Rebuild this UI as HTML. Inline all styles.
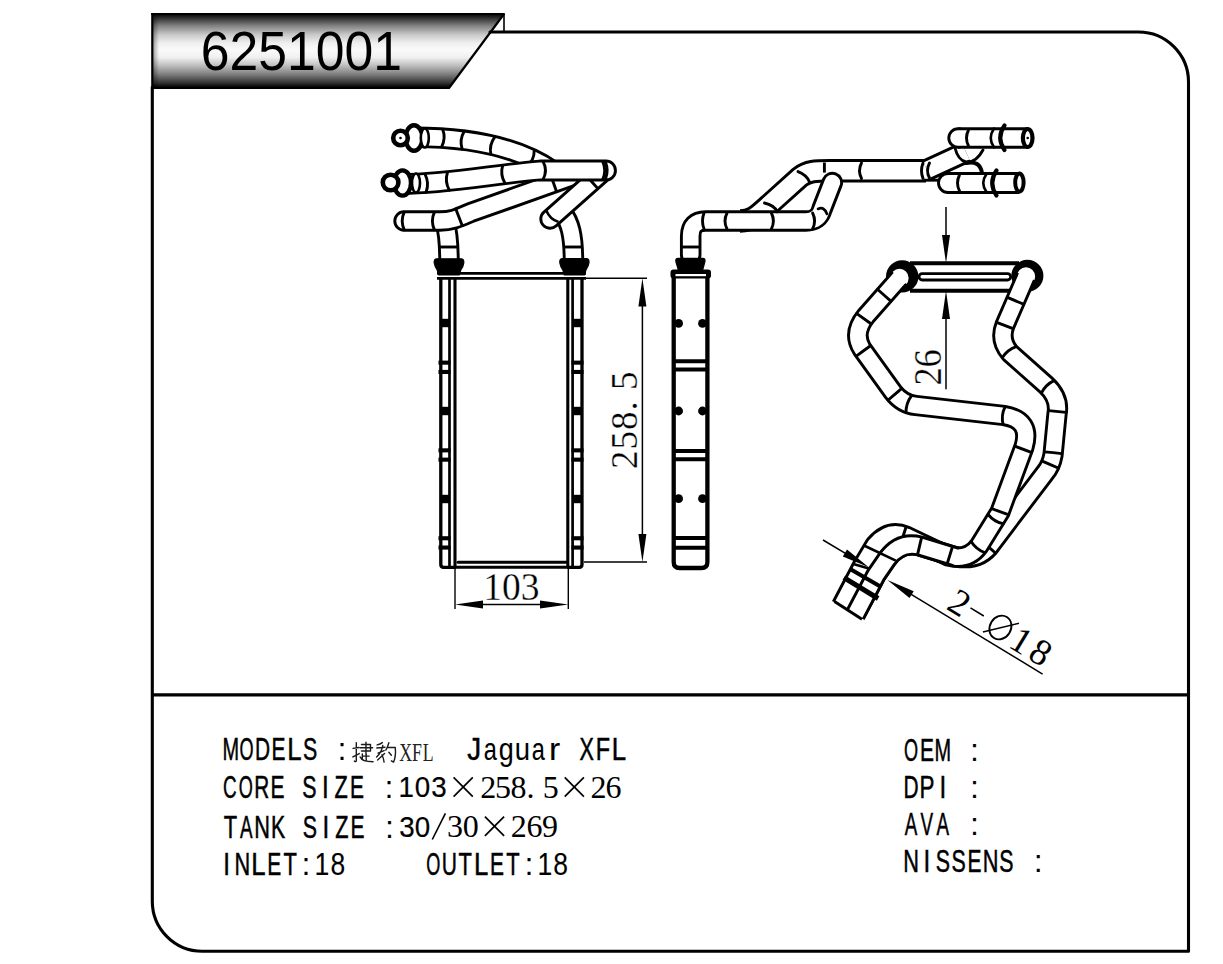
<!DOCTYPE html>
<html><head><meta charset="utf-8"><style>
html,body{margin:0;padding:0;background:#fff;width:1223px;height:964px;overflow:hidden}
svg{display:block}
</style></head><body>
<svg width="1223" height="964" viewBox="0 0 1223 964" font-family="Liberation Sans, sans-serif">
<defs><linearGradient id="tg" x1="0" y1="0" x2="0" y2="1">
<stop offset="0" stop-color="#000"/><stop offset="0.03" stop-color="#111"/><stop offset="0.05" stop-color="#222"/><stop offset="0.168" stop-color="#808080"/>
<stop offset="0.287" stop-color="#c8c8c8"/><stop offset="0.404" stop-color="#f0f0f0"/><stop offset="0.497" stop-color="#fafafa"/><stop offset="0.592" stop-color="#f0f0f0"/>
<stop offset="0.697" stop-color="#c0c0c0"/><stop offset="0.814" stop-color="#808080"/><stop offset="0.932" stop-color="#333"/><stop offset="0.97" stop-color="#111"/><stop offset="1" stop-color="#000"/>
</linearGradient>
<linearGradient id="tl" x1="0" y1="0" x2="1" y2="0">
<stop offset="0" stop-color="#000" stop-opacity="0.35"/><stop offset="1" stop-color="#000" stop-opacity="0"/></linearGradient></defs>
<polygon points="152,13 504,13 449,88 152,88" fill="url(#tg)"/>
<rect x="153" y="13" width="6" height="75" fill="url(#tl)"/>
<path d="M152 14 L504 14 L449 88 L152 88" fill="none" stroke="#000" stroke-width="2.2" stroke-linejoin="round" stroke-linecap="round"/>
<line x1="152.3" y1="13" x2="152.3" y2="88" stroke="#000" stroke-width="2.2" stroke-linecap="butt"/>
<line x1="504" y1="14" x2="504" y2="32" stroke="#000" stroke-width="1.6" stroke-linecap="butt"/>
<path d="M490 32 L1138.5 32 A50 50 0 0 1 1188.5 82 L1188.5 951.3 L202.3 951.3 A50 50 0 0 1 152.3 901.3 L152.3 87" fill="none" stroke="#000" stroke-width="3.1" stroke-linejoin="round" stroke-linecap="round"/>
<line x1="152.3" y1="694.8" x2="1188.5" y2="694.8" stroke="#000" stroke-width="3.2" stroke-linecap="butt"/>
<text transform="scale(0.923,1)" x="217.5" y="70.3" font-family="Liberation Sans" font-size="56" fill="#000">6251001</text>
<path d="M440.8 279 L440.8 564.5 Q440.8 567.3 443.6 567.3 L455 567.3" fill="none" stroke="#000" stroke-width="3.3" stroke-linejoin="round" stroke-linecap="round"/>
<line x1="449.5" y1="279" x2="449.5" y2="567.5" stroke="#000" stroke-width="2.7" stroke-linecap="butt"/>
<line x1="455" y1="279" x2="455" y2="567" stroke="#000" stroke-width="3.1"/>
<path d="M582 279 L582 564.5 Q582 567.3 579.2 567.3 L568 567.3" fill="none" stroke="#000" stroke-width="3.3" stroke-linejoin="round" stroke-linecap="round"/>
<line x1="572.6" y1="279" x2="572.6" y2="567.5" stroke="#000" stroke-width="2.7" stroke-linecap="butt"/>
<line x1="567.8" y1="279" x2="567.8" y2="567" stroke="#000" stroke-width="3.1"/>
<line x1="437" y1="273.3" x2="586" y2="273.3" stroke="#000" stroke-width="2.7" stroke-linecap="butt"/>
<line x1="437" y1="278.4" x2="586" y2="278.4" stroke="#000" stroke-width="2.7" stroke-linecap="butt"/>
<path d="M458 562.3 L566 562.3" fill="none" stroke="#000" stroke-width="3" stroke-linejoin="round" stroke-linecap="round"/>
<path d="M456 567.2 L567 567.2" fill="none" stroke="#000" stroke-width="3" stroke-linejoin="round" stroke-linecap="round"/>
<rect x="440" y="318.8" width="10" height="8.4" fill="#000"/>
<rect x="572" y="318.8" width="10" height="8.4" fill="#000"/>
<rect x="440" y="406.8" width="10" height="8.4" fill="#000"/>
<rect x="572" y="406.8" width="10" height="8.4" fill="#000"/>
<rect x="440" y="494.8" width="10" height="8.4" fill="#000"/>
<rect x="572" y="494.8" width="10" height="8.4" fill="#000"/>
<rect x="438.5" y="360.6" width="12" height="4.1" fill="#000"/><rect x="438.5" y="369.90000000000003" width="12" height="4.1" fill="#000"/>
<rect x="571.5" y="360.6" width="12" height="4.1" fill="#000"/><rect x="571.5" y="369.90000000000003" width="12" height="4.1" fill="#000"/>
<rect x="438.5" y="448.3" width="12" height="4.1" fill="#000"/><rect x="438.5" y="457.6" width="12" height="4.1" fill="#000"/>
<rect x="571.5" y="448.3" width="12" height="4.1" fill="#000"/><rect x="571.5" y="457.6" width="12" height="4.1" fill="#000"/>
<rect x="438.5" y="536.1999999999999" width="12" height="4.1" fill="#000"/><rect x="438.5" y="545.5" width="12" height="4.1" fill="#000"/>
<rect x="571.5" y="536.1999999999999" width="12" height="4.1" fill="#000"/><rect x="571.5" y="545.5" width="12" height="4.1" fill="#000"/>
<path d="M414 137.3 C450 137.3 510 141 553 171" fill="none" stroke="#000" stroke-width="21.5" stroke-linecap="butt" stroke-linejoin="round"/><path d="M414 137.3 C450 137.3 510 141 553 171" fill="none" stroke="#fff" stroke-width="15.7" stroke-linecap="butt" stroke-linejoin="round"/>
<path d="M441.6 147.0 Q446.1 138.4 442.7 129.3" fill="none" stroke="#000" stroke-width="2.9" stroke-linejoin="round" stroke-linecap="round"/>
<path d="M462.1 149.0 Q459.2 139.6 464.3 131.3" fill="none" stroke="#000" stroke-width="2.9" stroke-linejoin="round" stroke-linecap="round"/>
<path d="M490.8 154.1 Q489.0 144.5 494.9 136.8" fill="none" stroke="#000" stroke-width="2.9" stroke-linejoin="round" stroke-linecap="round"/>
<path d="M526.8 166.3 Q534.5 160.0 534.2 150.1" fill="none" stroke="#000" stroke-width="2.9" stroke-linejoin="round" stroke-linecap="round"/>
<path d="M445 222 C448 232 449 242 449 262" fill="none" stroke="#000" stroke-width="21.4" stroke-linecap="butt" stroke-linejoin="round"/><path d="M445 222 C448 232 449 242 449 262" fill="none" stroke="#fff" stroke-width="15.6" stroke-linecap="butt" stroke-linejoin="round"/>
<line x1="439.5" y1="247" x2="458.5" y2="247" stroke="#000" stroke-width="2.9" stroke-linecap="butt"/>
<path d="M404 221 L440 221 C452 221 458 218 470 212.8 L580 173.8" fill="none" stroke="#000" stroke-width="21.3" stroke-linecap="round" stroke-linejoin="round"/><path d="M404 221 L440 221 C452 221 458 218 470 212.8 L580 173.8" fill="none" stroke="#fff" stroke-width="15.5" stroke-linecap="round" stroke-linejoin="round"/>
<path d="M404.2 229.8 Q400.2 221.0 404.2 212.2" fill="none" stroke="#000" stroke-width="2.9" stroke-linejoin="round" stroke-linecap="round"/>
<path d="M434.4 229.8 Q430.4 221.0 434.4 212.2" fill="none" stroke="#000" stroke-width="2.9" stroke-linejoin="round" stroke-linecap="round"/>
<path d="M462.2 225.6 Q459.1 217.4 455.9 209.2" fill="none" stroke="#000" stroke-width="2.9" stroke-linejoin="round" stroke-linecap="round"/>
<path d="M556.5 191.5 Q553.6 183.2 550.7 174.9" fill="none" stroke="#000" stroke-width="2.9" stroke-linejoin="round" stroke-linecap="round"/>
<path d="M562 212 C570 222 573.5 235 573.5 262" fill="none" stroke="#000" stroke-width="21.4" stroke-linecap="butt" stroke-linejoin="round"/><path d="M562 212 C570 222 573.5 235 573.5 262" fill="none" stroke="#fff" stroke-width="15.6" stroke-linecap="butt" stroke-linejoin="round"/>
<line x1="564" y1="247" x2="583" y2="247" stroke="#000" stroke-width="2.9" stroke-linecap="butt"/>
<path d="M604 171 L550 219" fill="none" stroke="#000" stroke-width="21.3" stroke-linecap="round" stroke-linejoin="round"/><path d="M604 171 L550 219" fill="none" stroke="#fff" stroke-width="15.5" stroke-linecap="round" stroke-linejoin="round"/>
<path d="M586.0 175.2 Q591.9 181.8 597.7 188.4" fill="none" stroke="#000" stroke-width="2.9" stroke-linejoin="round" stroke-linecap="round"/>
<path d="M402 184 C448 184 495 174 540 170.5 L606 170.5" fill="none" stroke="#000" stroke-width="21.8" stroke-linecap="round" stroke-linejoin="round"/><path d="M402 184 C448 184 495 174 540 170.5 L606 170.5" fill="none" stroke="#fff" stroke-width="16.0" stroke-linecap="round" stroke-linejoin="round"/>
<path d="M426.1 192.2 Q429.5 183.0 425.0 174.2" fill="none" stroke="#000" stroke-width="2.9" stroke-linejoin="round" stroke-linecap="round"/>
<path d="M449.4 190.3 Q444.5 181.7 447.5 172.3" fill="none" stroke="#000" stroke-width="2.9" stroke-linejoin="round" stroke-linecap="round"/>
<path d="M505.0 183.3 Q499.9 174.8 502.7 165.4" fill="none" stroke="#000" stroke-width="2.9" stroke-linejoin="round" stroke-linecap="round"/>
<path d="M543.0 179.6 Q548.0 170.5 543.0 161.4" fill="none" stroke="#000" stroke-width="2.9" stroke-linejoin="round" stroke-linecap="round"/>
<path d="M602.7 179.6 Q606.7 170.5 602.7 161.4" fill="none" stroke="#000" stroke-width="2.9" stroke-linejoin="round" stroke-linecap="round"/>
<path d="M605.7 178.1 Q608.7 170.5 605.7 162.9" fill="none" stroke="#000" stroke-width="2.9" stroke-linejoin="round" stroke-linecap="round"/>
<path d="M546.5 211 Q550 219 557.5 221.5" fill="none" stroke="#000" stroke-width="2.6" stroke-linejoin="round" stroke-linecap="round"/>
<ellipse cx="414" cy="138" rx="8.5" ry="12.8" fill="#fff" stroke="#000" stroke-width="4.4"/>
<ellipse cx="424.8" cy="138" rx="4" ry="9.5" fill="#fff" stroke="#000" stroke-width="2.6"/>
<circle cx="400.5" cy="138" r="7.3" fill="#fff" stroke="#000" stroke-width="4.6"/>
<circle cx="400.5" cy="138" r="1.3" fill="#000"/>
<ellipse cx="402.5" cy="183" rx="8.5" ry="12.6" fill="#fff" stroke="#000" stroke-width="4.4"/>
<ellipse cx="416" cy="183" rx="4" ry="9.5" fill="#fff" stroke="#000" stroke-width="2.6"/>
<circle cx="390.6" cy="182.5" r="7.8" fill="#fff" stroke="#000" stroke-width="4.6"/>
<path d="M437 258.8 Q433.8 258.8 434.2 263 Q434.8 266.5 437.2 270 L438.8 275 L459.2 275 L460.8 270 Q463.4 266.5 463.8 263 Q464.2 258.8 461 258.8 Z" fill="#000" stroke="#000" stroke-width="1.2" stroke-linejoin="round" stroke-linecap="round"/>
<path d="M562.6 258.6 Q559.4 258.6 559.8 262.8 Q560.4 266.3 562.8 269.8 L564.4 275 L584.4 275 L586 269.8 Q588.6 266.3 589 262.8 Q589.4 258.6 586.2 258.6 Z" fill="#000" stroke="#000" stroke-width="1.2" stroke-linejoin="round" stroke-linecap="round"/>
<line x1="584" y1="278.3" x2="647" y2="278.3" stroke="#000" stroke-width="1.4" stroke-linecap="butt"/>
<line x1="584" y1="562" x2="647" y2="562" stroke="#000" stroke-width="1.4" stroke-linecap="butt"/>
<line x1="642.4" y1="290" x2="642.4" y2="550" stroke="#000" stroke-width="1.5" stroke-linecap="butt"/>
<polygon points="642.4,278.3 638.4,306.5 646.4,306.5" fill="#000"/>
<polygon points="642.4,562 646.4,534.0 638.4,534.0" fill="#000"/>
<text transform="translate(637,419.8) rotate(-90)" text-anchor="middle" font-family="Liberation Serif" font-size="37" letter-spacing="1" fill="#000" stroke="#fff" stroke-width="0.3">258. 5</text>
<line x1="455" y1="568" x2="455" y2="609" stroke="#000" stroke-width="1.4" stroke-linecap="butt"/>
<line x1="568.3" y1="568" x2="568.3" y2="609" stroke="#000" stroke-width="1.4" stroke-linecap="butt"/>
<line x1="470" y1="604.6" x2="553" y2="604.6" stroke="#000" stroke-width="1.5" stroke-linecap="butt"/>
<polygon points="455,604.6 483.0,608.6 483.0,600.6" fill="#000"/>
<polygon points="568.3,604.6 540.0,600.6 540.0,608.6" fill="#000"/>
<text transform="translate(511.3,600.1) scale(0.95,1)" text-anchor="middle" font-family="Liberation Serif" font-size="39.5" fill="#000" stroke="#fff" stroke-width="0.3">103</text>
<path d="M673.7 278 L673.7 562 Q673.7 568 679.7 568 L701.4 568 Q707.4 568 707.4 562 L707.4 278" fill="none" stroke="#000" stroke-width="4.3" stroke-linejoin="round" stroke-linecap="round"/>
<circle cx="678.6" cy="323.4" r="4.4" fill="#000"/><circle cx="702.5" cy="323.4" r="4.4" fill="#000"/>
<circle cx="678.6" cy="411" r="4.4" fill="#000"/><circle cx="702.5" cy="411" r="4.4" fill="#000"/>
<circle cx="678.6" cy="498.7" r="4.4" fill="#000"/><circle cx="702.5" cy="498.7" r="4.4" fill="#000"/>
<line x1="673.7" y1="361.2" x2="707.4" y2="361.2" stroke="#000" stroke-width="4" stroke-linecap="butt"/>
<line x1="673.7" y1="369.5" x2="707.4" y2="369.5" stroke="#000" stroke-width="4" stroke-linecap="butt"/>
<line x1="673.7" y1="451" x2="707.4" y2="451" stroke="#000" stroke-width="4" stroke-linecap="butt"/>
<line x1="673.7" y1="459.2" x2="707.4" y2="459.2" stroke="#000" stroke-width="4" stroke-linecap="butt"/>
<line x1="673.7" y1="538" x2="707.4" y2="538" stroke="#000" stroke-width="4" stroke-linecap="butt"/>
<line x1="673.7" y1="547.7" x2="707.4" y2="547.7" stroke="#000" stroke-width="4" stroke-linecap="butt"/>
<path d="M740 221 C752 221 757 216 770 204 L800 177 C808 171 815 170.75 830 170.75 L926 170.75" fill="none" stroke="#000" stroke-width="23.4" stroke-linecap="butt" stroke-linejoin="round"/><path d="M740 221 C752 221 757 216 770 204 L800 177 C808 171 815 170.75 830 170.75 L926 170.75" fill="none" stroke="#fff" stroke-width="17.6" stroke-linecap="butt" stroke-linejoin="round"/>
<path d="M927 170 L966 152" fill="none" stroke="#000" stroke-width="22.4" stroke-linecap="butt" stroke-linejoin="round"/><path d="M927 170 L966 152" fill="none" stroke="#fff" stroke-width="16.6" stroke-linecap="butt" stroke-linejoin="round"/>
<path d="M690.7 255 L690.7 236 Q690.7 221 705.7 221 L806 221 Q819 221 822 209 L832.3 182.5" fill="none" stroke="#000" stroke-width="21.5" stroke-linecap="round" stroke-linejoin="round"/><path d="M690.7 255 L690.7 236 Q690.7 221 705.7 221 L806 221 Q819 221 822 209 L832.3 182.5" fill="none" stroke="#fff" stroke-width="15.7" stroke-linecap="round" stroke-linejoin="round"/>
<rect x="670.5" y="269.6" width="40.5" height="9" rx="3" fill="#000"/>
<rect x="675.5" y="274" width="30.5" height="2.2" fill="#fff"/>
<path d="M678 258.4 Q675.5 258.4 676 261.5 L678.5 270 L702.5 270 L704.8 261.5 Q705.3 258.4 702.8 258.4 Z" fill="#000" stroke="#000" stroke-width="1.5" stroke-linejoin="round" stroke-linecap="round"/>
<path d="M771.4 213 Q775.4 221.0 771.4 229" fill="none" stroke="#000" stroke-width="2.9" stroke-linejoin="round" stroke-linecap="round"/>
<path d="M812.6 213 Q816.6 221.0 812.6 229" fill="none" stroke="#000" stroke-width="2.9" stroke-linejoin="round" stroke-linecap="round"/>
<path d="M764.5 203 Q774 205 777.3 211.8" fill="none" stroke="#000" stroke-width="2.9" stroke-linejoin="round" stroke-linecap="round"/>
<path d="M798 171.6 Q807 175 809.7 182.4" fill="none" stroke="#000" stroke-width="2.9" stroke-linejoin="round" stroke-linecap="round"/>
<line x1="824.4" y1="162.5" x2="824.4" y2="172.6" stroke="#000" stroke-width="2.9" stroke-linecap="butt"/>
<path d="M861.5 163 Q857.5 170.75 861.5 178.5" fill="none" stroke="#000" stroke-width="2.9" stroke-linejoin="round" stroke-linecap="round"/>
<path d="M923 163 Q920 170.75 923 178.5" fill="none" stroke="#000" stroke-width="2.9" stroke-linejoin="round" stroke-linecap="round"/>
<path d="M929.5 163 Q925.5 170.5 929.5 178" fill="none" stroke="#000" stroke-width="2.9" stroke-linejoin="round" stroke-linecap="round"/>
<path d="M704 213 Q701 221.0 704 229" fill="none" stroke="#000" stroke-width="2.9" stroke-linejoin="round" stroke-linecap="round"/>
<path d="M727 213 Q723 221.0 727 229" fill="none" stroke="#000" stroke-width="2.9" stroke-linejoin="round" stroke-linecap="round"/>
<line x1="681.2" y1="247" x2="700.2" y2="247" stroke="#000" stroke-width="2.9" stroke-linecap="butt"/>
<path d="M818 209 Q824 206 827 214" fill="none" stroke="#000" stroke-width="2.6" stroke-linejoin="round" stroke-linecap="round"/>
<circle cx="958" cy="138" r="9.2" fill="#fff" stroke="#000" stroke-width="2.9"/>
<path d="M958 138 L1027.7 138" fill="none" stroke="#000" stroke-width="21.5" stroke-linecap="butt" stroke-linejoin="round"/><path d="M958 138 L1027.7 138" fill="none" stroke="#fff" stroke-width="15.7" stroke-linecap="butt" stroke-linejoin="round"/>
<path d="M955 148 Q958 160 966 162 Q976 163 983 150" fill="none" stroke="#000" stroke-width="2.9" stroke-linejoin="round" stroke-linecap="round"/>
<line x1="924" y1="180.2" x2="940" y2="180.2" stroke="#000" stroke-width="2.9" stroke-linecap="butt"/>
<circle cx="948" cy="183" r="9.5" fill="#fff" stroke="#000" stroke-width="2.9"/>
<path d="M948 183 L1019.4 183" fill="none" stroke="#000" stroke-width="21.9" stroke-linecap="butt" stroke-linejoin="round"/><path d="M948 183 L1019.4 183" fill="none" stroke="#fff" stroke-width="16.1" stroke-linecap="butt" stroke-linejoin="round"/>
<path d="M966 163 Q980 160 982 173" fill="none" stroke="#000" stroke-width="4" stroke-linejoin="round" stroke-linecap="round"/>
<path d="M968.5 130 Q964.5 138.0 968.5 146" fill="none" stroke="#000" stroke-width="2.9" stroke-linejoin="round" stroke-linecap="round"/>
<path d="M994 128.5 Q987.5 138 994 147.5" fill="none" stroke="#000" stroke-width="2.6" stroke-linejoin="round" stroke-linecap="round"/>
<path d="M1004.5 125.5 Q996 137.75 1004.5 150" fill="none" stroke="#000" stroke-width="4.2" stroke-linejoin="round" stroke-linecap="round"/>
<ellipse cx="1027.7" cy="138" rx="4.8" ry="9.0" fill="#fff" stroke="#000" stroke-width="4.2"/>
<circle cx="1027.7" cy="138" r="1.3" fill="#000"/>
<path d="M959.5 175 Q955.5 183.0 959.5 191" fill="none" stroke="#000" stroke-width="2.9" stroke-linejoin="round" stroke-linecap="round"/>
<path d="M986.5 174 Q980 183 986.5 192" fill="none" stroke="#000" stroke-width="2.6" stroke-linejoin="round" stroke-linecap="round"/>
<path d="M996.5 170.5 Q988 183 996.5 195.5" fill="none" stroke="#000" stroke-width="4.2" stroke-linejoin="round" stroke-linecap="round"/>
<ellipse cx="1019.4" cy="182.5" rx="4.2" ry="9.1" fill="#fff" stroke="#000" stroke-width="4.0"/>
<line x1="910" y1="263.2" x2="1019" y2="263.2" stroke="#000" stroke-width="4" stroke-linecap="butt"/>
<line x1="910" y1="290.7" x2="1019" y2="290.7" stroke="#000" stroke-width="4" stroke-linecap="butt"/>
<rect x="919" y="273.6" width="91.7" height="6.4" rx="3.2" fill="none" stroke="#000" stroke-width="2.8"/>
<circle cx="902.2" cy="276.4" r="12" fill="none" stroke="#000" stroke-width="8.4"/><circle cx="1027.4" cy="275.8" r="11.8" fill="none" stroke="#000" stroke-width="8.4"/>
<circle cx="1026" cy="276.5" r="10.6" fill="#fff" stroke="#000" stroke-width="2.9"/>
<path d="M1026 276.5 L1005 325 Q999 340 1010 353 L1046 385 Q1060 398 1057 414 L1053 455 Q1051 466 1045 473 L992 543 Q980 561 956 557 L920 546 Q900 541 887 559 L876 575 L855.1 614.8" fill="none" stroke="#000" stroke-width="21.2" stroke-linecap="butt" stroke-linejoin="round"/><path d="M1026 276.5 L1005 325 Q999 340 1010 353 L1046 385 Q1060 398 1057 414 L1053 455 Q1051 466 1045 473 L992 543 Q980 561 956 557 L920 546 Q900 541 887 559 L876 575 L855.1 614.8" fill="none" stroke="#fff" stroke-width="15.4" stroke-linecap="butt" stroke-linejoin="round"/>
<path d="M1007.5 297.3 Q1015.5 300.8 1023.5 304.2" fill="none" stroke="#000" stroke-width="2.9" stroke-linejoin="round" stroke-linecap="round"/>
<path d="M996.7 322.3 Q1004.8 325.4 1013.0 328.6" fill="none" stroke="#000" stroke-width="2.9" stroke-linejoin="round" stroke-linecap="round"/>
<path d="M1002.4 357.5 Q1007.4 349.7 1016.1 346.6" fill="none" stroke="#000" stroke-width="2.9" stroke-linejoin="round" stroke-linecap="round"/>
<path d="M1041.5 392.8 Q1045.7 384.6 1054.0 380.6" fill="none" stroke="#000" stroke-width="2.9" stroke-linejoin="round" stroke-linecap="round"/>
<path d="M1048.7 410.6 Q1057.4 411.5 1066.1 412.4" fill="none" stroke="#000" stroke-width="2.9" stroke-linejoin="round" stroke-linecap="round"/>
<path d="M1044.5 451.9 Q1053.2 452.7 1061.9 453.6" fill="none" stroke="#000" stroke-width="2.9" stroke-linejoin="round" stroke-linecap="round"/>
<path d="M1042.2 461.1 Q1050.2 464.5 1058.2 468.0" fill="none" stroke="#000" stroke-width="2.9" stroke-linejoin="round" stroke-linecap="round"/>
<path d="M982.3 541.4 Q988.8 547.2 995.4 553.0" fill="none" stroke="#000" stroke-width="2.9" stroke-linejoin="round" stroke-linecap="round"/>
<circle cx="899.5" cy="278" r="10.6" fill="#fff" stroke="#000" stroke-width="2.9"/>
<path d="M899.5 278 L866 316 Q852 333 862 349 L893 392 Q902 404 916 405.5 L1004 415.5 Q1032 420 1024 447 L1000 512 L979 546 Q968 561 948 556 L906 536 Q889 529 875 545 L862.4 566 L841.4 606" fill="none" stroke="#000" stroke-width="21.2" stroke-linecap="butt" stroke-linejoin="round"/><path d="M899.5 278 L866 316 Q852 333 862 349 L893 392 Q902 404 916 405.5 L1004 415.5 Q1032 420 1024 447 L1000 512 L979 546 Q968 561 948 556 L906 536 Q889 529 875 545 L862.4 566 L841.4 606" fill="none" stroke="#fff" stroke-width="15.4" stroke-linecap="butt" stroke-linejoin="round"/>
<path d="M877.7 289.5 Q884.3 295.3 890.8 301.1" fill="none" stroke="#000" stroke-width="2.9" stroke-linejoin="round" stroke-linecap="round"/>
<path d="M856.8 313.6 Q863.9 318.7 871.0 323.8" fill="none" stroke="#000" stroke-width="2.9" stroke-linejoin="round" stroke-linecap="round"/>
<path d="M856.3 356.1 Q863.4 350.9 870.5 345.8" fill="none" stroke="#000" stroke-width="2.9" stroke-linejoin="round" stroke-linecap="round"/>
<path d="M888.2 400.0 Q894.9 394.3 901.5 388.6" fill="none" stroke="#000" stroke-width="2.9" stroke-linejoin="round" stroke-linecap="round"/>
<path d="M906.0 412.2 Q906.0 403.0 911.6 395.6" fill="none" stroke="#000" stroke-width="2.9" stroke-linejoin="round" stroke-linecap="round"/>
<path d="M1003.0 424.2 Q1001.0 415.2 1005.0 406.8" fill="none" stroke="#000" stroke-width="2.9" stroke-linejoin="round" stroke-linecap="round"/>
<path d="M1015.0 446.2 Q1023.2 449.3 1031.4 452.3" fill="none" stroke="#000" stroke-width="2.9" stroke-linejoin="round" stroke-linecap="round"/>
<path d="M991.9 508.6 Q1000.1 511.7 1008.3 514.7" fill="none" stroke="#000" stroke-width="2.9" stroke-linejoin="round" stroke-linecap="round"/>
<path d="M988.1 514.5 Q994.0 521.7 1003.0 523.7" fill="none" stroke="#000" stroke-width="2.9" stroke-linejoin="round" stroke-linecap="round"/>
<path d="M971.3 541.7 Q976.2 549.5 984.9 552.6" fill="none" stroke="#000" stroke-width="2.9" stroke-linejoin="round" stroke-linecap="round"/>
<path d="M906.1 526.7 Q903.5 535.1 900.8 543.4" fill="none" stroke="#000" stroke-width="2.9" stroke-linejoin="round" stroke-linecap="round"/>
<path d="M956 557 L920 546 Q900 541 887 559 L876 575 L855.1 614.8" fill="none" stroke="#000" stroke-width="21.2" stroke-linecap="butt" stroke-linejoin="round"/><path d="M956 557 L920 546 Q900 541 887 559 L876 575 L855.1 614.8" fill="none" stroke="#fff" stroke-width="15.4" stroke-linecap="butt" stroke-linejoin="round"/>
<circle cx="956" cy="557" r="7.3" fill="#fff"/>
<path d="M921.6 537.4 Q919.6 545.9 917.6 554.4" fill="none" stroke="#000" stroke-width="2.9" stroke-linejoin="round" stroke-linecap="round"/>
<path d="M952.4 546.8 Q949.9 555.1 947.3 563.5" fill="none" stroke="#000" stroke-width="2.9" stroke-linejoin="round" stroke-linecap="round"/>
<circle cx="1026" cy="276.5" r="7.6" fill="#fff"/><circle cx="899.5" cy="278" r="7.6" fill="#fff"/>
<line x1="834.5" y1="601.6" x2="862" y2="619.2" stroke="#000" stroke-width="3" stroke-linecap="butt"/>
<line x1="843.9" y1="577.7" x2="878.1" y2="598.5" stroke="#000" stroke-width="5" stroke-linecap="butt"/>
<line x1="851" y1="569.4" x2="881.2" y2="587" stroke="#000" stroke-width="4" stroke-linecap="butt"/>
<line x1="854.2" y1="564.2" x2="868.8" y2="568.4" stroke="#000" stroke-width="2.6" stroke-linecap="butt"/>
<line x1="864" y1="545.5" x2="895.8" y2="560.6" stroke="#000" stroke-width="2.6" stroke-linecap="butt"/>
<line x1="946" y1="207" x2="946" y2="240" stroke="#000" stroke-width="1.5" stroke-linecap="butt"/>
<polygon points="946,263.2 950.0,235.0 942.0,235.0" fill="#000"/>
<line x1="946" y1="310" x2="946" y2="389.3" stroke="#000" stroke-width="1.5" stroke-linecap="butt"/>
<polygon points="946,290.7 942.0,319.0 950.0,319.0" fill="#000"/>
<text transform="translate(940.6,367.4) rotate(-90) scale(0.9,1)" text-anchor="middle" font-family="Liberation Serif" font-size="40.5" fill="#000" stroke="#fff" stroke-width="0.3">26</text>
<line x1="823" y1="540" x2="850" y2="556.2" stroke="#000" stroke-width="1.5" stroke-linecap="butt"/>
<polygon points="868.8,567.3 847.0,549.6 842.8,556.4" fill="#000"/>
<line x1="905" y1="590.7" x2="1042.6" y2="674.1" stroke="#000" stroke-width="1.5" stroke-linecap="butt"/>
<polygon points="887.4,580 909.5,598.1 913.7,591.3" fill="#000"/>
<g transform="translate(946,609) rotate(31.3)"><text x="8.5 81 103.5" y="0" text-anchor="middle" font-family="Liberation Serif" font-size="37" fill="#000">218</text><line x1="20.3" y1="-13.7" x2="35.9" y2="-13.7" stroke="#000" stroke-width="1.6"/><ellipse cx="56.1" cy="-12.5" rx="10.5" ry="12.3" fill="none" stroke="#000" stroke-width="1.9"/><line x1="43.5" y1="0.5" x2="69.8" y2="-25.7" stroke="#000" stroke-width="1.6"/></g>
<g font-family="Liberation Sans" font-size="30.5" fill="#000" stroke="#000" stroke-width="0.5"><text transform="translate(230.7,760) scale(0.654,1)" text-anchor="middle">M</text><text transform="translate(246.6,760) scale(0.593,1)" text-anchor="middle">O</text><text transform="translate(262.5,760) scale(0.685,1)" text-anchor="middle">D</text><text transform="translate(278.4,760) scale(0.687,1)" text-anchor="middle">E</text><text transform="translate(294.3,760) scale(0.844,1)" text-anchor="middle">L</text><text transform="translate(310.2,760) scale(0.701,1)" text-anchor="middle">S</text><text transform="translate(342.0,760) scale(1.000,1)" text-anchor="middle" stroke-width="0.1">:</text></g>
<g font-family="Liberation Sans" font-size="30.5" fill="#000" stroke="#000" stroke-width="0.5"><text transform="translate(229.9,798) scale(0.619,1)" text-anchor="middle">C</text><text transform="translate(245.8,798) scale(0.593,1)" text-anchor="middle">O</text><text transform="translate(261.8,798) scale(0.681,1)" text-anchor="middle">R</text><text transform="translate(277.6,798) scale(0.687,1)" text-anchor="middle">E</text><text transform="translate(309.4,798) scale(0.701,1)" text-anchor="middle">S</text><text transform="translate(325.3,798) scale(0.793,1)" text-anchor="middle">I</text><text transform="translate(341.2,798) scale(0.714,1)" text-anchor="middle">Z</text><text transform="translate(357.1,798) scale(0.687,1)" text-anchor="middle">E</text><text transform="translate(388.9,798) scale(1.000,1)" text-anchor="middle" stroke-width="0.1">:</text></g>
<g font-family="Liberation Sans" font-size="30.5" fill="#000" stroke="#000" stroke-width="0.5"><text transform="translate(230.4,838.2) scale(0.718,1)" text-anchor="middle">T</text><text transform="translate(246.3,838.2) scale(0.616,1)" text-anchor="middle">A</text><text transform="translate(262.2,838.2) scale(0.713,1)" text-anchor="middle">N</text><text transform="translate(278.1,838.2) scale(0.697,1)" text-anchor="middle">K</text><text transform="translate(309.9,838.2) scale(0.701,1)" text-anchor="middle">S</text><text transform="translate(325.8,838.2) scale(0.793,1)" text-anchor="middle">I</text><text transform="translate(341.8,838.2) scale(0.714,1)" text-anchor="middle">Z</text><text transform="translate(357.6,838.2) scale(0.687,1)" text-anchor="middle">E</text><text transform="translate(389.4,838.2) scale(1.000,1)" text-anchor="middle" stroke-width="0.1">:</text></g>
<g font-family="Liberation Sans" font-size="30.5" fill="#000" stroke="#000" stroke-width="0.5"><text transform="translate(226.5,874.6) scale(0.793,1)" text-anchor="middle">I</text><text transform="translate(242.4,874.6) scale(0.713,1)" text-anchor="middle">N</text><text transform="translate(258.4,874.6) scale(0.844,1)" text-anchor="middle">L</text><text transform="translate(274.2,874.6) scale(0.687,1)" text-anchor="middle">E</text><text transform="translate(290.1,874.6) scale(0.718,1)" text-anchor="middle">T</text><text transform="translate(306.1,874.6) scale(1.000,1)" text-anchor="middle" stroke-width="0.1">:</text><text transform="translate(321.9,874.6) scale(0.871,1)" text-anchor="middle" stroke-width="0.1">1</text><text transform="translate(337.8,874.6) scale(0.868,1)" text-anchor="middle" stroke-width="0.1">8</text></g>
<g font-family="Liberation Sans" font-size="30.5" fill="#000" stroke="#000" stroke-width="0.5"><text transform="translate(433.4,874.6) scale(0.593,1)" text-anchor="middle">O</text><text transform="translate(449.3,874.6) scale(0.690,1)" text-anchor="middle">U</text><text transform="translate(465.2,874.6) scale(0.718,1)" text-anchor="middle">T</text><text transform="translate(481.1,874.6) scale(0.844,1)" text-anchor="middle">L</text><text transform="translate(497.1,874.6) scale(0.687,1)" text-anchor="middle">E</text><text transform="translate(513.0,874.6) scale(0.718,1)" text-anchor="middle">T</text><text transform="translate(528.9,874.6) scale(1.000,1)" text-anchor="middle" stroke-width="0.1">:</text><text transform="translate(544.8,874.6) scale(0.871,1)" text-anchor="middle" stroke-width="0.1">1</text><text transform="translate(560.7,874.6) scale(0.868,1)" text-anchor="middle" stroke-width="0.1">8</text></g>
<g font-family="Liberation Sans" font-size="30.5" fill="#000" stroke="#000" stroke-width="0.5"><text transform="translate(474.1,760) scale(0.913,1)" text-anchor="middle">J</text><text transform="translate(490.2,760) scale(0.772,1)" text-anchor="middle" stroke-width="0.1">a</text><text transform="translate(506.2,760) scale(0.884,1)" text-anchor="middle" stroke-width="0.1">g</text><text transform="translate(522.3,760) scale(0.901,1)" text-anchor="middle" stroke-width="0.1">u</text><text transform="translate(538.4,760) scale(0.772,1)" text-anchor="middle" stroke-width="0.1">a</text><text transform="translate(554.5,760) scale(1.104,1)" text-anchor="middle" stroke-width="0.1">r</text><text transform="translate(586.8,760) scale(0.707,1)" text-anchor="middle">X</text><text transform="translate(602.8,760) scale(0.767,1)" text-anchor="middle">F</text><text transform="translate(618.9,760) scale(0.844,1)" text-anchor="middle">L</text></g>
<g font-family="Liberation Sans" font-size="30.5" fill="#000" stroke="#000" stroke-width="0.5"><text transform="translate(911.0,760.7) scale(0.593,1)" text-anchor="middle">O</text><text transform="translate(926.9,760.7) scale(0.687,1)" text-anchor="middle">E</text><text transform="translate(942.8,760.7) scale(0.654,1)" text-anchor="middle">M</text><text transform="translate(974.6,760.7) scale(1.000,1)" text-anchor="middle" stroke-width="0.1">:</text></g>
<g font-family="Liberation Sans" font-size="30.5" fill="#000" stroke="#000" stroke-width="0.5"><text transform="translate(911.0,797.8) scale(0.685,1)" text-anchor="middle">D</text><text transform="translate(926.9,797.8) scale(0.736,1)" text-anchor="middle">P</text><text transform="translate(942.8,797.8) scale(0.793,1)" text-anchor="middle">I</text><text transform="translate(974.6,797.8) scale(1.000,1)" text-anchor="middle" stroke-width="0.1">:</text></g>
<g font-family="Liberation Sans" font-size="30.5" fill="#000" stroke="#000" stroke-width="0.5"><text transform="translate(911.0,835.4) scale(0.616,1)" text-anchor="middle">A</text><text transform="translate(926.9,835.4) scale(0.619,1)" text-anchor="middle">V</text><text transform="translate(942.8,835.4) scale(0.616,1)" text-anchor="middle">A</text><text transform="translate(974.6,835.4) scale(1.000,1)" text-anchor="middle" stroke-width="0.1">:</text></g>
<g font-family="Liberation Sans" font-size="30.5" fill="#000" stroke="#000" stroke-width="0.5"><text transform="translate(911.0,872) scale(0.713,1)" text-anchor="middle">N</text><text transform="translate(926.9,872) scale(0.793,1)" text-anchor="middle">I</text><text transform="translate(942.8,872) scale(0.701,1)" text-anchor="middle">S</text><text transform="translate(958.7,872) scale(0.701,1)" text-anchor="middle">S</text><text transform="translate(974.6,872) scale(0.687,1)" text-anchor="middle">E</text><text transform="translate(990.5,872) scale(0.713,1)" text-anchor="middle">N</text><text transform="translate(1006.4,872) scale(0.701,1)" text-anchor="middle">S</text><text transform="translate(1038.2,872) scale(1.000,1)" text-anchor="middle" stroke-width="0.1">:</text></g>
<text transform="scale(0.94,1)" x="432.2 449.5 466.9" y="797" text-anchor="middle" font-family="Liberation Sans" font-size="29.5" fill="#000" stroke="#000" stroke-width="0.2">103</text>
<text transform="scale(0.94,1)" x="433.0 449.5" y="837.4" text-anchor="middle" font-family="Liberation Sans" font-size="29.5" fill="#000" stroke="#000" stroke-width="0.2">30</text>
<line x1="453.59999999999997" y1="777.4" x2="472.8" y2="796.6" stroke="#000" stroke-width="1.7" stroke-linecap="butt"/>
<line x1="453.59999999999997" y1="796.6" x2="472.8" y2="777.4" stroke="#000" stroke-width="1.7" stroke-linecap="butt"/>
<line x1="564.6999999999999" y1="777.4" x2="583.9" y2="796.6" stroke="#000" stroke-width="1.7" stroke-linecap="butt"/>
<line x1="564.6999999999999" y1="796.6" x2="583.9" y2="777.4" stroke="#000" stroke-width="1.7" stroke-linecap="butt"/>
<line x1="484.9" y1="816.6" x2="504.1" y2="835.8000000000001" stroke="#000" stroke-width="1.7" stroke-linecap="butt"/>
<line x1="484.9" y1="835.8000000000001" x2="504.1" y2="816.6" stroke="#000" stroke-width="1.7" stroke-linecap="butt"/>
<line x1="445.4" y1="813.3" x2="432.3" y2="839.5" stroke="#000" stroke-width="1.6" stroke-linecap="butt"/>
<text x="488.3 503.0 518.5 530.5 550.8 598.5 613.5" y="797.5" text-anchor="middle" font-family="Liberation Serif" font-size="32" fill="#000">258.526</text>
<text x="454.9 470.8 518.8 534.4 550.1" y="837.4" text-anchor="middle" font-family="Liberation Serif" font-size="32" fill="#000">30269</text>
<text transform="scale(0.72,1)" x="563.6 579.2 594.7" y="760.6" text-anchor="middle" font-family="Liberation Serif" font-size="24.7" fill="#222">XFL</text>
<g transform="translate(352,741.5) scale(0.215)" fill="none" stroke="#1a1a1a" stroke-width="6.5" stroke-linecap="round" stroke-linejoin="round"><path d="M5 32 L32 28 M20 5 L20 88 Q20 97 11 91 M4 72 L34 56 M44 14 L86 14 L86 44 M38 29 L96 29 M44 44 L86 44 M65 3 L65 60 M48 58 L48 80 M48 68 L80 68 M66 58 L66 86 M38 72 Q46 94 98 94"/></g>
<g transform="translate(375.5,741.5) scale(0.215)" fill="none" stroke="#1a1a1a" stroke-width="6.5" stroke-linecap="round" stroke-linejoin="round"><path d="M32 5 Q22 12 8 16 M6 30 L44 27 M34 18 Q28 52 5 72 M40 42 L12 54 M42 56 L10 86 M30 62 Q38 80 40 96 M62 6 Q56 28 48 40 M56 28 L92 28 Q96 70 84 96 L74 90 M62 50 L74 64"/></g>
</svg>
</body></html>
